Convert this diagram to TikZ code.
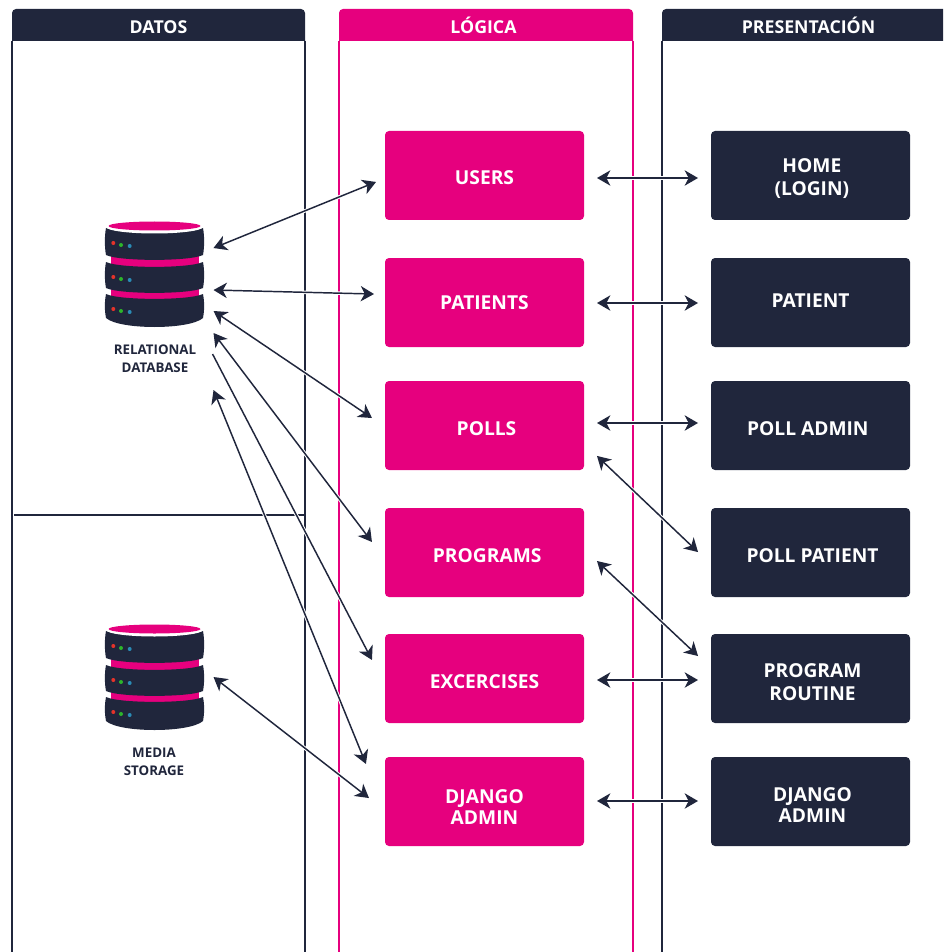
\documentclass[tikz,border=0pt]{standalone}
\usepackage{fontspec}
\setmainfont{Open Sans}
\usetikzlibrary{arrows.meta,calc}

\definecolor{navy}{HTML}{20263C}
\definecolor{magenta}{HTML}{E6007E}
\definecolor{ledred}{HTML}{E5332A}
\definecolor{ledgreen}{HTML}{2DB52B}
\definecolor{ledblue}{HTML}{2A8BB5}

\tikzset{
  colline/.style={line width=.8pt},
  headtext/.style={text=white,font=\bfseries\fontsize{13.3}{16}\selectfont,inner sep=0pt},
  box/.style={rounded corners=3pt,minimum width=149.25pt,minimum height=66.75pt,inner sep=0pt,outer sep=0pt,
    text=white,align=center,font=\bfseries\fontsize{14.4}{15.75}\selectfont},
  drop/.style={text height=10.4pt+#1*1.5pt},
  pinkbox/.style={box,fill=magenta},
  navybox/.style={box,fill=navy},
  dbnode/.style={minimum width=75pt,minimum height=81pt,inner sep=0pt,outer sep=0pt},
  dblabel/.style={text=navy,align=center,inner sep=0pt,font=\bfseries\fontsize{10}{13.5}\selectfont},
  link/.style={navy,line width=1.1pt,<->,>={Stealth[length=10pt,width=11.5pt,inset=3pt]},
    preaction={draw=white,line width=2.6pt}},
  gaps/.style 2 args={shorten <=#1*.75pt,shorten >=#2*.75pt},
  pics/barrel/.style n args={3}{code={
    \fill[navy] (-48.5,#1) .. controls (-35,#1+6.5) and (35,#1+6.5) .. (48.5,#1)
      .. controls (50,#1+8) and (50,#2-8) .. (48.5,#2)
      .. controls (35,#2+#3) and (-35,#2+#3) .. (-48.5,#2)
      .. controls (-50,#2-8) and (-50,#1+8) .. (-48.5,#1) -- cycle;
    \fill[ledred] (-41.2,#1+15) circle (1.5pt);
    \fill[ledgreen] (-33.5,#1+17) circle (1.5pt);
    \fill[ledblue] (-24.8,#1+18) circle (1.5pt);
  }},
  pics/dbicon/.style={code={
    \fill[magenta] (-44,-19) rectangle (44,-6);
    \fill[magenta] (-44,13) rectangle (44,26);
    \pic at (0,0) {barrel={-46}{-19}{6.5}};
    \pic at (0,0) {barrel={-12}{14}{6.5}};
    \pic at (0,0) {barrel={20}{44}{12}};
    \fill[white] (0,-47) ellipse (48pt*.75 and 6.5pt*.75);
    \fill[magenta] (0,-48) ellipse (46pt*.75 and 4.5pt*.75);
  }}
}

\begin{document}
\begin{tikzpicture}[x=.75pt,y=-.75pt]
  \clip (0,0) rectangle (943,952);
  \useasboundingbox (0,0) rectangle (943,952);

  % Columns
  \draw[navy,colline] (12,41) -- (12,952);
  \draw[navy,colline] (305,41) -- (305,952);
  \draw[magenta,colline] (339,41) -- (339,952);
  \draw[magenta,colline] (633,41) -- (633,952);
  \draw[navy,colline] (662,41) -- (662,952);
  \draw[navy,colline] (14,515) -- (305,515);

  % Column headers
  \fill[navy] (12,41) [rounded corners=3pt] -- (12,9) -- (305,9) [sharp corners] -- (305,41) -- cycle;
  \fill[magenta] (339,41) [rounded corners=3pt] -- (339,9) -- (633,9) [sharp corners] -- (633,41) -- cycle;
  \fill[navy] (662,41) [rounded corners=3pt] -- (662,9) -- (960,9) [sharp corners] -- (960,41) -- cycle;
  \node[headtext] (datos) at (158.5,27) {DATOS};
  \node[headtext] (logica) at (483.5,25.5) {LÓGICA};
  \node[headtext] (presentacion) at (808.5,25) {PRESENTACIÓN};

  % Databases
  \node[dbnode] (relational) at (154.5,274) {};
  \pic at (relational) {dbicon};
  \node[dblabel] (relationaltext) at (155,359) {RELATIONAL\\DATABASE};
  \node[dbnode] (media) at (154.5,677) {};
  \pic at (media) {dbicon};
  \node[dblabel] (mediatext) at (154,762) {MEDIA\\STORAGE};

  % Logic boxes
  \node[pinkbox,drop=2] (users) at (484.5,175.5) {USERS};
  \node[pinkbox,drop=0] (patients) at (484.5,302.5) {PATIENTS};
  \node[pinkbox,drop=3] (polls) at (484.5,425.5) {\hspace*{3pt}POLLS};
  \node[pinkbox,drop=3] (programs) at (484.5,552.5) {\hspace*{4pt}PROGRAMS};
  \node[pinkbox,drop=3] (excercises) at (484.5,678.5) {EXCERCISES};
  \node[pinkbox,drop=16] (djangologic) at (484.5,801.5) {DJANGO\\ADMIN};

  % Presentation boxes
  \node[navybox,drop=15] (home) at (810.5,175.5) {\hspace*{2pt}HOME\\[2pt]\hspace*{2pt}(LOGIN)};
  \node[navybox,text depth=3pt] (patient) at (810.5,302.5) {PATIENT};
  \node[navybox,drop=3] (polladmin) at (810.5,425.5) {POLL ADMIN\hspace*{4pt}};
  \node[navybox,drop=3] (pollpatient) at (810.5,552.5) {\hspace*{3pt}POLL PATIENT};
  \node[navybox,drop=15.5] (routine) at (810.5,678.5) {\hspace*{3pt}PROGRAM\\[2pt]\hspace*{3pt}ROUTINE};
  \node[navybox,drop=14] (djangoview) at (810.5,801.5) {\hspace*{3pt}DJANGO\\\hspace*{3pt}ADMIN};

  % Data to logic
  \draw[link,gaps={9.7}{9.7}] ($(relational.east)+(0,-22.3)$) -- ($(users.west)+(0,2.8)$);
  \draw[link,gaps={9}{11}] ($(relational.east)+(0,15.8)$) -- ($(patients.west)+(0,-8.2)$);
  \draw[link,gaps={10.9}{15.7}] ($(relational.east)+(0,30.9)$) -- ($(polls.west)+(0,1.3)$);
  \draw[link,gaps={14.9}{21.6}] ($(relational.east)+(0,47.1)$) -- ($(programs.west)+(0,6.7)$);
  \draw[link,-{Stealth[length=10pt,width=11.5pt,inset=3pt]},gaps={17.4}{28.2}] ($(relational.east)+(0,64.6)$) -- ($(excercises.west)+(0,6.5)$);
  \draw[link,gaps={23.9}{50.5}] ($(relational.east)+(0,93.9)$) -- ($(djangologic.west)+(0,9.2)$);
  \draw[link,gaps={11.4}{20.3}] ($(media.east)+(0,-7)$) -- ($(djangologic.west)+(0,9)$);

  % Logic to presentation
  \draw[link,gaps={13}{13}] ($(users.east)+(0,2.5)$) -- ($(home.west)+(0,2.5)$);
  \draw[link,gaps={13}{13}] ($(patients.east)+(0,.5)$) -- ($(patient.west)+(0,.5)$);
  \draw[link,gaps={13}{13}] ($(polls.east)+(0,-2.5)$) -- ($(polladmin.west)+(0,-2.5)$);
  \draw[link,gaps={17.9}{17.9}] ($(polls.east)+(0,18.1)$) -- ($(pollpatient.west)+(0,11.9)$);
  \draw[link,gaps={17.8}{17.8}] ($(programs.east)+(0,-3.7)$) -- ($(routine.west)+(0,-10.3)$);
  \draw[link,gaps={13}{13}] ($(excercises.east)+(0,1.5)$) -- ($(routine.west)+(0,1.5)$);
  \draw[link,gaps={13}{13}] ($(djangologic.east)+(0,-.5)$) -- ($(djangoview.west)+(0,-.5)$);
\end{tikzpicture}
\end{document}
